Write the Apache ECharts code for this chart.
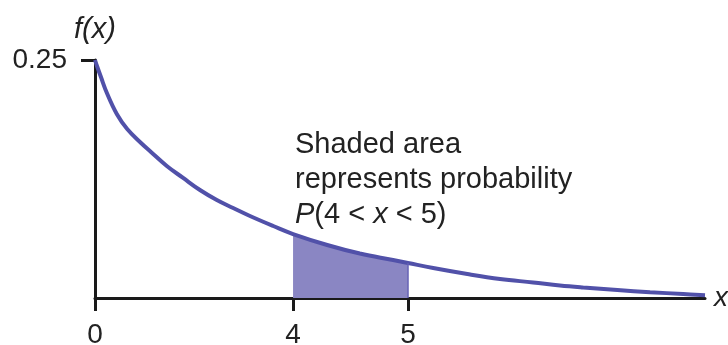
<!DOCTYPE html>
<html>
<head>
<meta charset="utf-8">
<script src="https://cdn.jsdelivr.net/npm/echarts@6/dist/echarts.min.js"></script>
<style>
  html, body { margin: 0; padding: 0; background: #fff; }
  #chart { width: 728px; height: 345px; }
</style>
</head>
<body>
<div id="chart"></div>
<script>
// Curve (x in the picture's own horizontal units, y = f(x))
var curveX = [0, 0.04, 0.12, 0.24, 0.44, 0.65, 0.93, 1.13, 1.45, 1.78, 2.12, 2.46, 2.79, 3.13, 3.60, 4.0, 4.69, 5.35, 6.02, 6.32, 6.83, 7.52, 8.18, 8.85, 9.39, 9.86, 10.55, 11.21, 11.88, 12.32];
var curveY = [0.25, 0.2437, 0.2321, 0.2153, 0.1933, 0.1775, 0.1628, 0.1534, 0.1387, 0.1261, 0.1134, 0.1029, 0.0945, 0.0861, 0.0756, 0.0672, 0.0557, 0.0467, 0.0399, 0.0368, 0.0315, 0.0252, 0.0200, 0.0163, 0.0131, 0.0110, 0.0084, 0.0061, 0.0042, 0.0029];

// x-axis ticks: positions in the picture's units and the labels printed there
var xTickPos = [0, 4, 6.32];
var xTickLabels = ['0', '4', '5'];
// y-axis ticks
var yTickPos = [0.25];
var yTickLabels = ['0.25'];

// shaded interval (picture units)
var shadeFrom = 4, shadeTo = 6.32;

var curve = curveX.map(function (x, i) { return [x, curveY[i]]; });
var shade = curve.filter(function (p) { return p[0] >= shadeFrom - 1e-9 && p[0] <= shadeTo + 1e-9; });
var shadeEndY = shade[shade.length - 1][1];

var FONT = '"Liberation Sans", Arial, sans-serif';
var chart = echarts.init(document.getElementById('chart'), null, { renderer: 'canvas' });

chart.setOption({
  animation: false,
  backgroundColor: '#ffffff',
  grid: { left: 95, right: 23, top: 60, bottom: 47, containLabel: false, outerBoundsMode: 'none' },
  xAxis: {
    type: 'value',
    min: 0,
    max: curveX[curveX.length - 1],
    name: 'x',
    nameLocation: 'end',
    nameGap: 9,
    nameTextStyle: { fontFamily: FONT, fontStyle: 'italic', fontSize: 28, color: '#222', verticalAlign: 'middle' },
    axisLine: { show: true, onZero: false, lineStyle: { color: '#1a1a1a', width: 3 } },
    axisTick: { show: true, length: 13, inside: false, customValues: xTickPos, lineStyle: { color: '#1a1a1a', width: 3 } },
    axisLabel: {
      show: true, margin: 23, customValues: xTickPos,
      fontFamily: FONT, fontSize: 28, color: '#222',
      formatter: function (v) {
        for (var i = 0; i < xTickPos.length; i++) { if (Math.abs(xTickPos[i] - v) < 1e-6) return xTickLabels[i]; }
        return '';
      }
    },
    splitLine: { show: false }
  },
  yAxis: {
    type: 'value',
    min: 0,
    max: 0.25,
    name: 'f(x)',
    nameLocation: 'end',
    nameGap: 16,
    nameTextStyle: { fontFamily: FONT, fontStyle: 'italic', fontSize: 29, color: '#222', align: 'center' },
    axisLine: { show: true, lineStyle: { color: '#1a1a1a', width: 3 } },
    axisTick: { show: true, length: 14, inside: false, customValues: yTickPos, lineStyle: { color: '#1a1a1a', width: 3 } },
    axisLabel: {
      show: true, margin: 28, customValues: yTickPos,
      fontFamily: FONT, fontSize: 28, color: '#222',
      formatter: function (v) {
        for (var i = 0; i < yTickPos.length; i++) { if (Math.abs(yTickPos[i] - v) < 1e-9) return yTickLabels[i]; }
        return '';
      }
    },
    splitLine: { show: false }
  },
  series: [
    {
      type: 'line',
      data: shade,
      smooth: 0.4,
      showSymbol: false,
      silent: true,
      z: 1,
      lineStyle: { width: 0 },
      areaStyle: { color: '#8a86c3', opacity: 1, origin: 'start' },
      markLine: {
        silent: true,
        symbol: 'none',
        label: { show: false },
        lineStyle: { color: '#6561b5', width: 1.5, type: 'solid' },
        data: [[{ coord: [shadeTo, 0] }, { coord: [shadeTo, shadeEndY] }]]
      }
    },
    {
      type: 'line',
      data: curve,
      smooth: 0.4,
      showSymbol: false,
      silent: true,
      z: 3,
      lineStyle: { color: '#5151a9', width: 4 }
    }
  ],
  graphic: [
    {
      type: 'text',
      left: 295,
      top: 130,
      silent: true,
      style: {
        text: '{n|Shaded area}\n{n|represents probability}\n{i|P}{n|(4 < }{i|x}{n| < 5)}',
        rich: {
          n: { fontFamily: FONT, fontSize: 29, lineHeight: 35, fill: '#222' },
          i: { fontFamily: FONT, fontSize: 29, lineHeight: 35, fontStyle: 'italic', fill: '#222' }
        }
      }
    }
  ]
});
</script>
</body>
</html>
